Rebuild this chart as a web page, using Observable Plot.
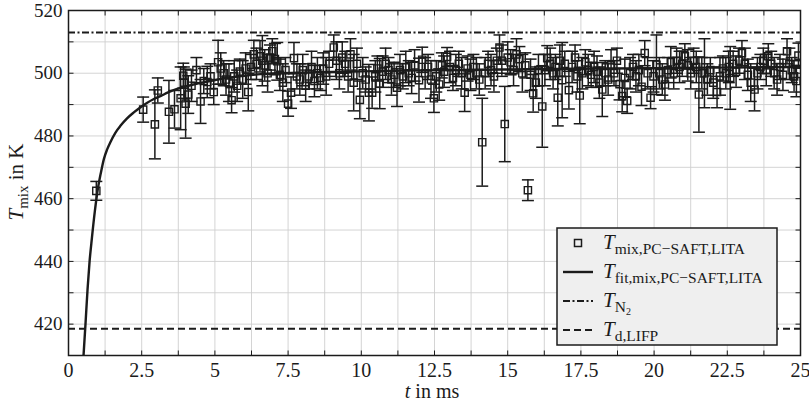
<!DOCTYPE html>
<html><head><meta charset="utf-8">
<script src="https://cdn.jsdelivr.net/npm/d3@7"></script>
<script src="https://cdn.jsdelivr.net/npm/@observablehq/plot@0.6"></script>
<style>body{margin:0;background:#fff} #chart svg{font-family:"Liberation Serif","DejaVu Serif",serif;}</style>
</head><body><div id="chart"></div>
<script>
// measured points: time (ms), temperature (K), error half-width (K)
const times = [
 0.95,2.55,2.95,3.05,3.43,3.62,3.83,3.92,3.94,4.0,
 4.09,4.2,4.37,4.51,4.62,4.74,4.85,4.96,5.11,5.2,
 5.3,5.38,5.48,5.57,5.66,5.76,5.85,5.95,6.05,6.14,
 6.23,6.33,6.42,6.54,6.62,6.7,6.8,6.88,6.96,7.05,
 7.13,7.22,7.32,7.41,7.5,7.6,7.7,7.8,7.9,8.0,
 8.1,8.2,8.3,8.4,8.5,8.6,8.7,8.8,8.9,9.06,
 9.15,9.25,9.35,9.45,9.55,9.63,9.74,9.85,9.95,10.05,
 10.15,10.26,10.37,10.48,10.55,10.63,10.73,10.83,10.93,11.03,
 11.12,11.22,11.32,11.42,11.52,11.62,11.72,11.82,11.97,12.08,
 12.18,12.28,12.38,12.48,12.56,12.66,12.75,12.83,12.93,13.03,
 13.13,13.23,13.33,13.43,13.53,13.63,13.73,13.83,13.93,14.03,
 14.13,14.23,14.33,14.43,14.53,14.63,14.72,14.8,14.9,15.0,
 15.1,15.2,15.3,15.4,15.5,15.6,15.69,15.78,15.87,15.96,
 16.05,16.18,16.27,16.35,16.45,16.55,16.63,16.71,16.78,16.86,
 16.95,17.09,17.2,17.3,17.38,17.46,17.55,17.65,17.75,17.85,
 17.95,18.05,18.13,18.23,18.33,18.43,18.53,18.63,18.73,18.82,
 18.91,19.0,19.08,19.18,19.28,19.38,19.48,19.57,19.68,19.78,
 19.88,19.98,20.08,20.18,20.28,20.37,20.47,20.57,20.67,20.77,
 20.87,20.96,21.05,21.15,21.25,21.35,21.44,21.53,21.63,21.72,
 21.82,21.92,22.02,22.15,22.25,22.35,22.45,22.55,22.6,22.7,
 22.8,22.9,23.0,23.1,23.2,23.3,23.43,23.53,23.63,23.73,
 23.83,23.9,24.0,24.1,24.2,24.3,24.4,24.54,24.62,24.7,
 24.78,24.86,24.93
];
const temps = [
 462.5,488.4,483.7,494.5,487.7,488.5,492,499.2,497,490.3,
 493.2,496,501,491,497.5,497.2,499,494,503.5,501.5,
 500,498,497,491.4,499,496,500.5,498,501.5,494,
 502,506,503,505.4,504,502.5,500,505,507,504.5,
 503.8,499.5,497,501,490.3,493.8,504.8,499,498,501,
 496,499,502,497.5,500,498.5,501.5,499,503,508.2,
 504,500,505,503,499,506,497,503,491.5,500,
 498,493.8,493.8,499,501.5,496.7,500.5,503,501,498,
 499.5,495.4,501,499,502,500,498.5,502.5,497.8,504.3,
 500,502,498,492,499,496.4,502.5,500.5,505.2,502,
 498.5,501,503,500,493.8,501.5,499.5,502,500,498,
 478,500,503,501,499,504,508.2,504,483.8,505,
 503.5,501,506,504.5,500,502.5,462.7,499.5,493.6,497,
 501,489.4,501,504.8,503,500,502,492.2,504,497.8,
 503,494.6,502,505,499,492.9,500,503.5,501,499.5,
 502,500.5,497,494.8,500,498,502.5,500,504,496.5,
 492.7,498.5,491.2,500,502,499,501,495.7,506.4,500,
 492.2,499,502.7,500,498,496.4,501,503.5,500,504,
 502,503,505.4,502.5,500,504,502,493.2,500,500,
 498,501,497,494,499,501.5,500,502,498.5,503,
 500.5,504,506.4,503,499.5,497,494.8,500,502,504,
 501,505.4,503,500,498,502,499.5,507,503,501,
 499,497.5,505.6
];
const errors = [
 3,4,11,4,10,6,10,4,5,11,
 6,5,4,7,4,5,4,4,7,5,
 4,5,6,4,5,5,4,6,5,6,
 4,4.5,5,5,8,5,6,4,4,5,
 6,5,6,4,4,5,5,4,5,5,
 5,4,5,5,5,4,5,6,4,4,
 6,5,5,4,5,5,9,5,6,5,
 4,9,5,5,4,8,5,5,4,5,
 4,6,5,4,5,4,5,5,7,4,
 5,4,6,4.5,5,5,4,5,3,5,
 4,5,4,5,6,4,5,4,5,5,
 14,5,4,5,5,4,4,5,12,5,
 4,5,5,4,6,4,3.3,5,6,5,
 5,13,5,4,5,5,4,9,5,12,
 4,6,5,4,5,9,5,4,5,4,
 5,5,5,8.6,4,5,5,4,4,5,
 5,6,4,5,4,5,5,6,4,5,
 3.5,5,9.5,5,5,5,4,5,5,4,
 5,4,4,5,5,4,5,12,5,11,
 5,4,5,5,6,4,5,5,10,4,
 5,4,4,5,5,6,6.8,5,4,4,
 5,4,4,5,5,4,5,4,5,4,
 5,5,4
];
// fit curve
const fitTimes = [0.5,0.58,0.65,0.72,0.8,0.9,1.0,1.1,1.21,1.32,1.43,1.6,1.78,2.0,2.23,2.45,2.69,2.9,3.14,3.4,3.71,4.1,4.51,5.0,5.42,6.0,6.56,7.2,7.92,9,10,12,14,16,18,20,22,25];
const fitTemps = [408,420,431,440,447.5,456,463,468,472.7,475.7,478,481,483.3,485.6,487.5,489.1,490.6,491.7,492.7,493.9,495,496,496.9,497.8,498.5,499.2,499.7,500,500.2,500.4,500.6,500.9,501.1,501.3,501.5,501.6,501.8,502];
const tN2 = 513;
const tdLIFP = 418.5;
const xTicks = [0,2.5,5,7.5,10,12.5,15,17.5,20,22.5,25];
const xGrid = [0,1.25,2.5,3.75,5,6.25,7.5,8.75,10,11.25,12.5,13.75,15,16.25,17.5,18.75,20,21.25,22.5,23.75,25];
const yTicks = [420,440,460,480,500,520];
const yGrid = [410,420,430,440,450,460,470,480,490,500,510,520];

const points = times.map((t, i) => ({t, T: temps[i], e: errors[i]}));
const fit = fitTimes.map((t, i) => ({t, T: fitTemps[i]}));

const ink = "#1b1b1b";
const sym = draw => ({draw});
const hLine = sym((c, s) => { const r = Math.sqrt(s / Math.PI); c.moveTo(-r, 0); c.lineTo(r, 0); });
const square = sym((c, s) => { const r = Math.sqrt(s / Math.PI); c.rect(-r, -r, 2 * r, 2 * r); });
const up = sym((c, s) => { const r = Math.sqrt(s / Math.PI); c.moveTo(0, 0); c.lineTo(0, -r); });
const down = sym((c, s) => { const r = Math.sqrt(s / Math.PI); c.moveTo(0, 0); c.lineTo(0, r); });
const right = sym((c, s) => { const r = Math.sqrt(s / Math.PI); c.moveTo(0, 0); c.lineTo(r, 0); });
const left = sym((c, s) => { const r = Math.sqrt(s / Math.PI); c.moveTo(0, 0); c.lineTo(-r, 0); });

const chart = Plot.plot({
  width: 809, height: 405,
  marginLeft: 68, marginRight: 9, marginTop: 10, marginBottom: 50,
  x: {domain: [0, 25]},
  y: {domain: [410, 520]},
  style: {fontFamily: "Liberation Serif, DejaVu Serif, serif", color: ink, background: "#fff"},
  marks: [
    Plot.gridX(xGrid, {stroke: "#cfcfcf", strokeOpacity: 1, strokeWidth: 0.9}),
    Plot.gridY(yGrid, {stroke: "#cfcfcf", strokeOpacity: 1, strokeWidth: 0.9}),
    Plot.dot(xGrid, {x: d => d, y: 410, symbol: up, r: 5, stroke: ink, strokeWidth: 1}),
    Plot.dot(xGrid, {x: d => d, y: 520, symbol: down, r: 5, stroke: ink, strokeWidth: 1}),
    Plot.dot(yGrid, {x: 0, y: d => d, symbol: right, r: 5, stroke: ink, strokeWidth: 1}),
    Plot.dot(yGrid, {x: 25, y: d => d, symbol: left, r: 5, stroke: ink, strokeWidth: 1}),
    Plot.ruleY([tN2], {stroke: ink, strokeWidth: 2, strokeDasharray: "7,2.5,2,2.5"}),
    Plot.ruleY([tdLIFP], {stroke: ink, strokeWidth: 2, strokeDasharray: "7,4"}),
    Plot.ruleX(points, {x: "t", y1: d => d.T - d.e, y2: d => d.T + d.e, stroke: ink, strokeWidth: 1.5, clip: "frame"}),
    Plot.dot(points, {x: "t", y: d => d.T - d.e, symbol: hLine, r: 6, stroke: ink, strokeWidth: 1.5, clip: "frame"}),
    Plot.dot(points, {x: "t", y: d => d.T + d.e, symbol: hLine, r: 6, stroke: ink, strokeWidth: 1.5, clip: "frame"}),
    Plot.dot(points, {x: "t", y: "T", symbol: square, r: 3.6, stroke: ink, strokeWidth: 1.4, fill: "none", clip: "frame"}),
    Plot.line(fit, {x: "t", y: "T", stroke: ink, strokeWidth: 2.4, curve: "monotone-x", clip: "frame"}),
    Plot.frame({stroke: ink, strokeWidth: 1.5}),
    Plot.axisX(xTicks, {tickSize: 0, tickPadding: 7, fontSize: 20, label: null, tickFormat: d => String(d)}),
    Plot.axisY(yTicks, {tickSize: 0, tickPadding: 6, fontSize: 19, label: null, tickFormat: d => String(d)})
  ]
});
document.getElementById("chart").append(chart);

// axis labels and legend with sub-scripted text
const svg = d3.select(chart);
const serif = "Liberation Serif, DejaVu Serif, serif";
function richText(g, x, y, base, subs, size) {
  const t = g.append("text").attr("x", x).attr("y", y).attr("fill", ink)
    .attr("text-anchor", "start").attr("font-size", size).attr("font-family", serif);
  t.append("tspan").attr("font-style", "italic").text(base);
  subs.forEach(([txt, dy, fs]) => {
    t.append("tspan").attr("dy", dy).attr("font-size", fs).text(txt);
  });
  return t;
}
// y label
const yl = svg.append("g").attr("transform", "translate(23,182) rotate(-90)");
const ylt = yl.append("text").attr("text-anchor", "middle").attr("fill", ink).attr("font-size", 21).attr("font-family", serif);
ylt.append("tspan").attr("font-style", "italic").text("T");
ylt.append("tspan").attr("font-size", 15).attr("dy", 4.5).text("mix");
ylt.append("tspan").attr("dy", -4.5).text(" in K");
// x label
const xlt = svg.append("text").attr("x", 432).attr("y", 398).attr("text-anchor", "middle").attr("fill", ink).attr("font-size", 20).attr("font-family", serif);
xlt.append("tspan").attr("font-style", "italic").text("t");
xlt.append("tspan").text(" in ms");

// legend
const lg = svg.append("g");
lg.append("rect").attr("x", 557).attr("y", 228).attr("width", 220).attr("height", 117)
  .attr("fill", "#efefef").attr("stroke", ink).attr("stroke-width", 1.5);
const rows = [243, 272, 301, 330];
lg.append("rect").attr("x", 574.5).attr("y", rows[0] - 3.5).attr("width", 7).attr("height", 7)
  .attr("fill", "none").attr("stroke", ink).attr("stroke-width", 1.5);
lg.append("line").attr("x1", 563).attr("x2", 593).attr("y1", rows[1]).attr("y2", rows[1]).attr("stroke", ink).attr("stroke-width", 2.4);
lg.append("line").attr("x1", 563).attr("x2", 593).attr("y1", rows[2]).attr("y2", rows[2]).attr("stroke", ink).attr("stroke-width", 2).attr("stroke-dasharray", "7,2.5,2,2.5");
lg.append("line").attr("x1", 563).attr("x2", 593).attr("y1", rows[3]).attr("y2", rows[3]).attr("stroke", ink).attr("stroke-width", 2).attr("stroke-dasharray", "7,4");
richText(lg, 603, rows[0] + 6, "T", [["mix,PC\u2212SAFT,LITA", 4.5, 15.5]], 21);
richText(lg, 603, rows[1] + 6, "T", [["fit,mix,PC\u2212SAFT,LITA", 4.5, 15.5]], 21);
richText(lg, 603, rows[2] + 6, "T", [["N", 4.5, 15.5], ["2", 3, 10]], 21);
richText(lg, 603, rows[3] + 6, "T", [["d,LIFP", 4.5, 15.5]], 21);
</script></body></html>
